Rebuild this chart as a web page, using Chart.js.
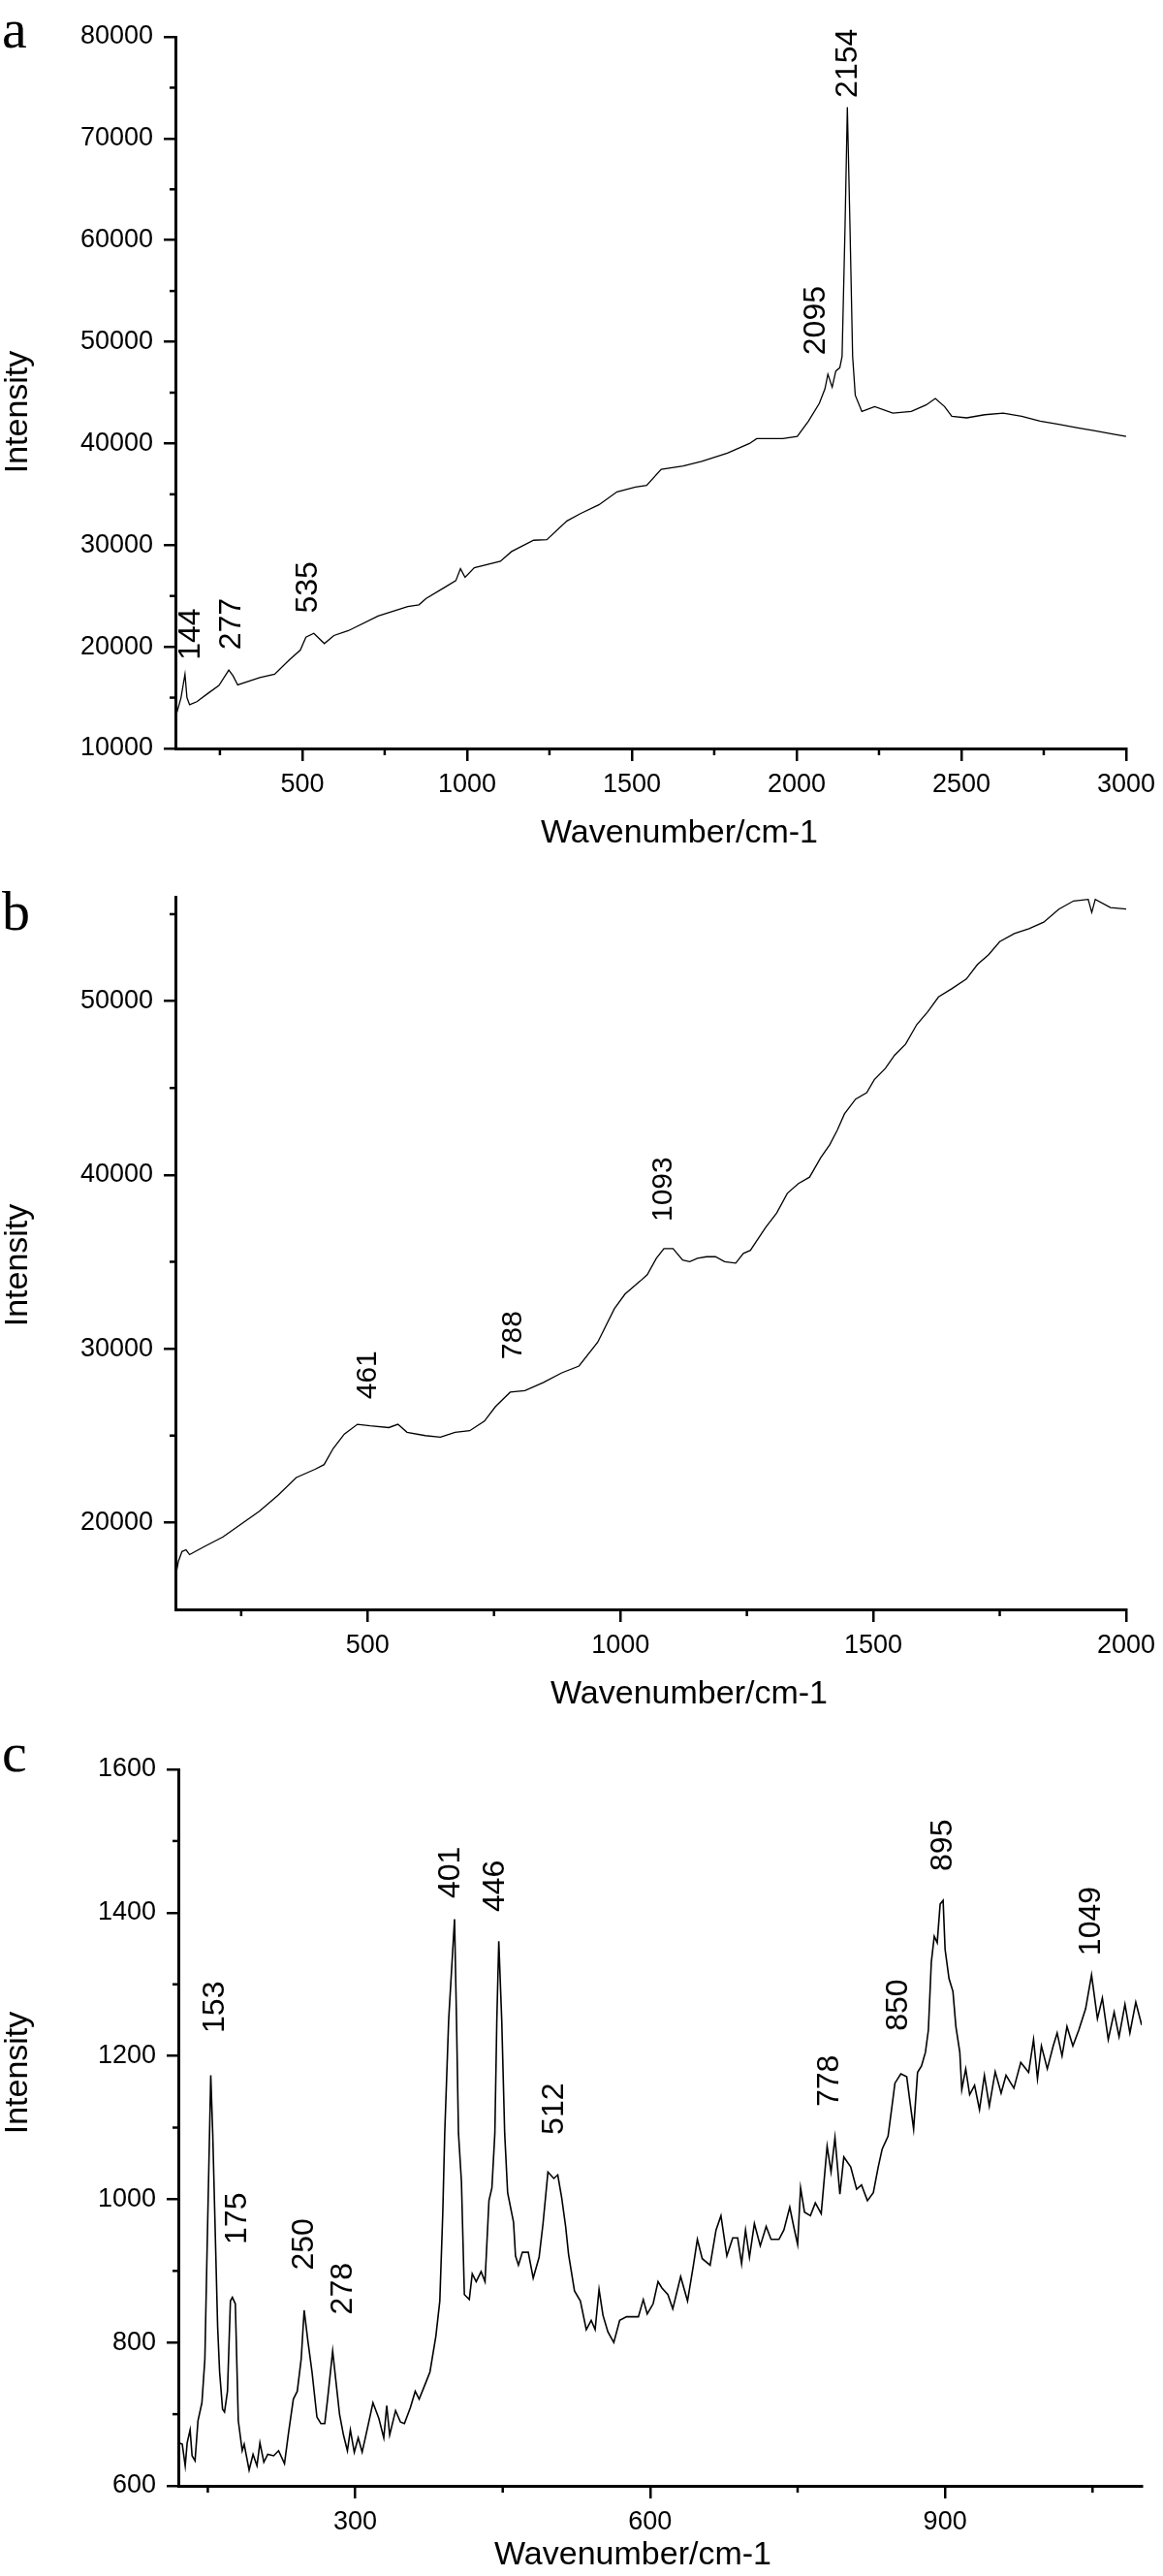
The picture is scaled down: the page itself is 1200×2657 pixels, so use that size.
<!DOCTYPE html>
<html>
<head>
<meta charset="utf-8">
<script src="https://cdn.jsdelivr.net/npm/chart.js@4.4.1/dist/chart.umd.min.js"></script>
<style>
  body { margin: 0; background: #fff; width: 1200px; height: 2657px; position: relative; overflow: hidden; }
  canvas { position: absolute; left: 0; }
  .tag { position: absolute; left: 2px; font-family: "Liberation Serif", "Times New Roman", serif; font-size: 58px; line-height: 1; color: #000; }
</style>
</head>
<body>
<div class="tag" style="top:1px">a</div>
<div class="tag" style="top:911px">b</div>
<div class="tag" style="top:1779px">c</div>
<canvas id="chartA" width="1200" height="890" style="top:0"></canvas>
<canvas id="chartB" width="1200" height="880" style="top:890px"></canvas>
<canvas id="chartC" width="1200" height="887" style="top:1770px"></canvas>
<script>
// panel a
const aWavenumber = [115, 132, 144, 150, 158, 180, 213, 247, 277, 290, 304, 371, 416, 461, 494, 511, 535, 567, 596, 640,
  730, 820, 854, 876, 933, 966, 980, 994, 1022, 1101, 1135, 1202, 1242, 1303, 1344, 1400, 1455, 1511, 1545, 1589,
  1656, 1712, 1790, 1857, 1879, 1958, 2002, 2036, 2069, 2086, 2095, 2108, 2119, 2131, 2138, 2147, 2154, 2162, 2170, 2178,
  2198, 2237, 2292, 2348, 2393, 2421, 2449, 2471, 2516, 2571, 2627, 2683, 2739, 2795, 2850, 2906, 2962, 3000];
const aIntensity = [13020, 15000, 17300, 15000, 14300, 14600, 15400, 16190, 17710, 17140, 16250, 16980, 17300, 18730, 19680, 20950, 21330, 20320, 21110, 21590,
  23020, 23970, 24130, 24760, 25870, 26510, 27680, 26830, 27780, 28410, 29370, 30480, 30540, 32380, 33100, 33970, 35240, 35710, 35870, 37460,
  37780, 38250, 39050, 40000, 40480, 40480, 40700, 42200, 43950, 45380, 46820, 45540, 47130, 47450, 48570, 61300, 73090, 61300, 48570, 44750,
  43150, 43630, 42990, 43150, 43790, 44430, 43630, 42680, 42520, 42830, 42990, 42680, 42200, 41880, 41560, 41240, 40920, 40700];
const aXMajor = [500, 1000, 1500, 2000, 2500, 3000];
const aXMinor = [250, 750, 1250, 1750, 2250, 2750];
const aYMajor = [10000, 20000, 30000, 40000, 50000, 60000, 70000, 80000];
const aYMinor = [15000, 25000, 35000, 45000, 55000, 65000, 75000];
const aPeakText = ['144', '277', '535', '2095', '2154'];
const aPeakX = [163, 286, 518, 2060, 2158];
const aPeakY = [18700, 19700, 23300, 48700, 74000];

// panel b
const bWavenumber = [120, 126, 133, 141, 148, 177, 214, 250, 286, 323, 359, 396, 414, 432, 454, 480, 505, 542, 560, 578,
  614, 644, 673, 702, 731, 753, 782, 811, 848, 884, 918, 955, 988, 1009, 1024, 1039, 1053, 1071, 1086, 1104,
  1123, 1137, 1152, 1170, 1188, 1206, 1228, 1243, 1257, 1272, 1287, 1309, 1330, 1352, 1374, 1396, 1414, 1429, 1443, 1465,
  1487, 1502, 1524, 1542, 1564, 1586, 1608, 1629, 1655, 1684, 1706, 1728, 1750, 1779, 1808, 1837, 1867, 1896, 1925, 1932,
  1939, 1969, 2000];
const bIntensity = [16850, 17780, 18330, 18430, 18150, 18610, 19170, 19910, 20650, 21570, 22590, 23060, 23330, 24260, 25090, 25650, 25560, 25460, 25650, 25190,
  25000, 24910, 25190, 25280, 25830, 26670, 27500, 27590, 28060, 28610, 29000, 30370, 32300, 33140, 33520, 33890, 34260, 35200, 35760, 35760,
  35100, 35010, 35200, 35290, 35290, 35010, 34920, 35480, 35660, 36320, 36970, 37810, 38940, 39500, 39870, 40990, 41740, 42580, 43510, 44360,
  44730, 45480, 46130, 46880, 47530, 48650, 49400, 50240, 50710, 51270, 52110, 52670, 53420, 53890, 54170, 54540, 55290, 55760, 55850, 55100,
  55850, 55380, 55290];
const bXMajor = [500, 1000, 1500, 2000];
const bXMinor = [250, 750, 1250, 1750];
const bYMajor = [20000, 30000, 40000, 50000];
const bYMinor = [25000, 35000, 45000, 55000];
const bPeakText = ['461', '788', '1093'];
const bPeakX = [501, 789, 1086];
const bPeakY = [27090, 29380, 37310];

// panel c
const cWavenumber = [121, 124, 127, 129, 132, 134, 137, 140, 144, 147, 149, 153, 155, 160, 162, 165, 167, 170, 173, 175,
  178, 181, 185, 187, 192, 196, 200, 203, 207, 211, 217, 222, 228, 232, 237, 241, 245, 248, 252, 256,
  261, 265, 269, 272, 277, 280, 284, 288, 292, 295, 299, 303, 307, 312, 318, 324, 329, 332, 335, 341,
  346, 350, 356, 361, 365, 372, 376, 382, 386, 389, 391, 395, 401, 403, 405, 408, 411, 416, 419, 423,
  428, 432, 436, 439, 442, 444, 446, 449, 452, 455, 461, 463, 466, 470, 476, 481, 487, 491, 496, 502,
  506, 510, 514, 517, 523, 529, 535, 540, 544, 548, 552, 557, 563, 569, 576, 588, 593, 597, 603, 608,
  612, 618, 623, 631, 638, 644, 648, 653, 661, 667, 672, 678, 684, 689, 693, 697, 701, 706, 712, 718,
  723, 731, 736, 742, 746, 750, 753, 757, 763, 768, 774, 780, 784, 788, 793, 797, 804, 810, 815, 821,
  827, 832, 836, 842, 846, 849, 855, 861, 864, 868, 872, 876, 880, 883, 886, 889, 892, 895, 898, 900,
  904, 908, 911, 915, 917, 921, 925, 930, 935, 940, 945, 951, 957, 962, 970, 977, 985, 990, 994, 998,
  1004, 1010, 1014, 1019, 1024, 1030, 1036, 1043, 1049, 1055, 1060, 1066, 1072, 1077, 1083, 1088, 1094, 1100];
const cIntensity = [660, 658, 628, 660, 678, 642, 635, 691, 716, 777, 912, 1173, 1092, 822, 759, 707, 703, 732, 858, 863,
  854, 691, 649, 658, 622, 644, 628, 660, 633, 644, 642, 649, 631, 673, 721, 732, 777, 845, 800, 759,
  696, 687, 687, 723, 788, 750, 700, 671, 649, 678, 647, 667, 647, 678, 716, 694, 667, 712, 671, 705,
  689, 687, 709, 732, 721, 745, 759, 809, 858, 980, 1092, 1250, 1391, 1250, 1092, 1025, 867, 860, 896, 885,
  899, 885, 998, 1016, 1092, 1250, 1360, 1250, 1092, 1009, 968, 921, 908, 926, 926, 890, 919, 966, 1038, 1029,
  1034, 1002, 962, 923, 872, 858, 818, 831, 818, 874, 838, 815, 800, 831, 836, 836, 860, 840, 854, 885,
  876, 867, 847, 892, 858, 908, 944, 917, 908, 957, 977, 921, 946, 946, 910, 957, 919, 966, 935, 962,
  944, 944, 957, 989, 962, 937, 1016, 982, 977, 995, 980, 1074, 1038, 1086, 1007, 1059, 1045, 1014, 1020, 998,
  1009, 1045, 1070, 1088, 1130, 1162, 1175, 1171, 1139, 1098, 1177, 1186, 1205, 1236, 1331, 1367, 1358, 1412, 1417, 1349,
  1308, 1290, 1241, 1205, 1153, 1182, 1146, 1159, 1125, 1173, 1130, 1178, 1148, 1173, 1155, 1191, 1177, 1223, 1168, 1214,
  1182, 1214, 1232, 1200, 1241, 1214, 1236, 1266, 1313, 1252, 1281, 1223, 1261, 1227, 1272, 1232, 1275, 1243];
const cXMajor = [300, 600, 900];
const cXMinor = [150, 450, 750, 1050];
const cYMajor = [600, 800, 1000, 1200, 1400, 1600];
const cYMinor = [700, 900, 1100, 1300, 1500];
const cPeakText = ['153', '175', '250', '278', '401', '446', '512', '778', '850', '895', '1049'];
const cPeakX = [158, 180, 248, 288, 397, 443, 503, 783, 853, 898, 1049];
const cPeakY = [1232, 937, 901, 839, 1420, 1401, 1090, 1129, 1235, 1458, 1340];

const SANS = '"Liberation Sans", Arial, Helvetica, sans-serif';

// minor ticks, rotated peak labels and the two axis titles
const decorations = {
  id: 'decorations',
  afterDraw(chart, args, opts) {
    const { ctx, scales: { x, y } } = chart;
    ctx.save();
    ctx.strokeStyle = '#000';
    ctx.lineWidth = 2.5;
    opts.xMinor.forEach(v => {
      const px = x.getPixelForValue(v);
      ctx.beginPath();
      ctx.moveTo(px, y.bottom);
      ctx.lineTo(px, y.bottom + 7);
      ctx.stroke();
    });
    opts.yMinor.forEach(v => {
      const py = y.getPixelForValue(v);
      ctx.beginPath();
      ctx.moveTo(x.left, py);
      ctx.lineTo(x.left - 6, py);
      ctx.stroke();
    });
    ctx.fillStyle = '#000';
    ctx.font = opts.labelSize + 'px ' + SANS;
    ctx.textAlign = 'left';
    ctx.textBaseline = 'middle';
    opts.text.forEach((t, i) => {
      ctx.save();
      ctx.translate(x.getPixelForValue(opts.px[i]), y.getPixelForValue(opts.py[i]));
      ctx.rotate(-Math.PI / 2);
      ctx.fillText(t, 0, 0);
      ctx.restore();
    });

    // axis titles (the original ones are not centred on the plot)
    ctx.font = '34px ' + SANS;
    ctx.textAlign = 'center';
    ctx.fillText('Wavenumber/cm-1', opts.xTitle[0], opts.xTitle[1]);
    ctx.save();
    ctx.translate(opts.yTitle[0], opts.yTitle[1]);
    ctx.rotate(-Math.PI / 2);
    ctx.fillText('Intensity', 0, 0);
    ctx.restore();
    ctx.restore();
  }
};

function makeChart(id, s) {
  const points = s.xs.map((x, i) => ({ x: x, y: s.ys[i] }));
  const tickFont = { family: SANS, size: 27 };
  return new Chart(document.getElementById(id), {
    type: 'line',
    data: {
      datasets: [{
        data: points,
        borderColor: '#000',
        borderWidth: s.lineWidth,
        pointRadius: 0,
        tension: 0,
        fill: false
      }]
    },
    options: {
      responsive: false,
      animation: false,
      devicePixelRatio: 1,
      layout: { padding: { left: 0, top: s.top, right: s.right, bottom: 0 } },
      plugins: {
        legend: { display: false },
        tooltip: { enabled: false },
        decorations: {
          xMinor: s.xMinor, yMinor: s.yMinor,
          text: s.peakText, px: s.peakX, py: s.peakY, labelSize: s.labelSize,
          xTitle: s.xTitle, yTitle: s.yTitle
        }
      },
      scales: {
        x: {
          type: 'linear',
          min: s.xMin,
          max: s.xMax,
          afterBuildTicks: sc => { sc.ticks = s.xMajor.map(v => ({ value: v })); },
          afterFit: sc => { sc.height = s.xHeight; },
          grid: { drawOnChartArea: false, drawTicks: true, tickLength: 13, color: '#000', lineWidth: 2.5 },
          border: { display: true, color: '#000', width: 3 },
          ticks: { font: tickFont, color: '#000', padding: 8, maxRotation: 0, autoSkip: false, callback: v => String(v) }
        },
        y: {
          type: 'linear',
          min: s.yMin,
          max: s.yMax,
          afterBuildTicks: sc => { sc.ticks = s.yMajor.map(v => ({ value: v })); },
          afterFit: sc => { sc.width = s.left; },
          grid: { drawOnChartArea: false, drawTicks: true, tickLength: 12, color: '#000', lineWidth: 2.5 },
          border: { display: true, color: '#000', width: 3 },
          ticks: { font: tickFont, color: '#000', padding: 11, autoSkip: false, callback: v => String(v) }
        }
      }
    },
    plugins: [decorations]
  });
}

makeChart('chartA', {
  xs: aWavenumber, ys: aIntensity, lineWidth: 1.3,
  xMin: 115, xMax: 3000, yMin: 10000, yMax: 80000,
  xMajor: aXMajor, xMinor: aXMinor, yMajor: aYMajor, yMinor: aYMinor,
  peakText: aPeakText, peakX: aPeakX, peakY: aPeakY, labelSize: 32,
  top: 38, right: 32, left: 181, xHeight: 118,
  xTitle: [701, 860], yTitle: [19, 425]
});

makeChart('chartB', {
  xs: bWavenumber, ys: bIntensity, lineWidth: 1.3,
  xMin: 120, xMax: 2000, yMin: 15000, yMax: 56000,
  xMajor: bXMajor, xMinor: bXMinor, yMajor: bYMajor, yMinor: bYMinor,
  peakText: bPeakText, peakX: bPeakX, peakY: bPeakY, labelSize: 30,
  top: 35, right: 32, left: 181, xHeight: 110,
  xTitle: [711, 858], yTitle: [19, 415]
});

makeChart('chartC', {
  xs: cWavenumber, ys: cIntensity, lineWidth: 1.6,
  xMin: 120, xMax: 1100, yMin: 600, yMax: 1600,
  xMajor: cXMajor, xMinor: cXMinor, yMajor: cYMajor, yMinor: cYMinor,
  peakText: cPeakText, peakX: cPeakX, peakY: cPeakY, labelSize: 32,
  top: 55, right: 22, left: 184, xHeight: 93,
  xTitle: [653, 866], yTitle: [19, 368]
});
</script>
</body>
</html>
